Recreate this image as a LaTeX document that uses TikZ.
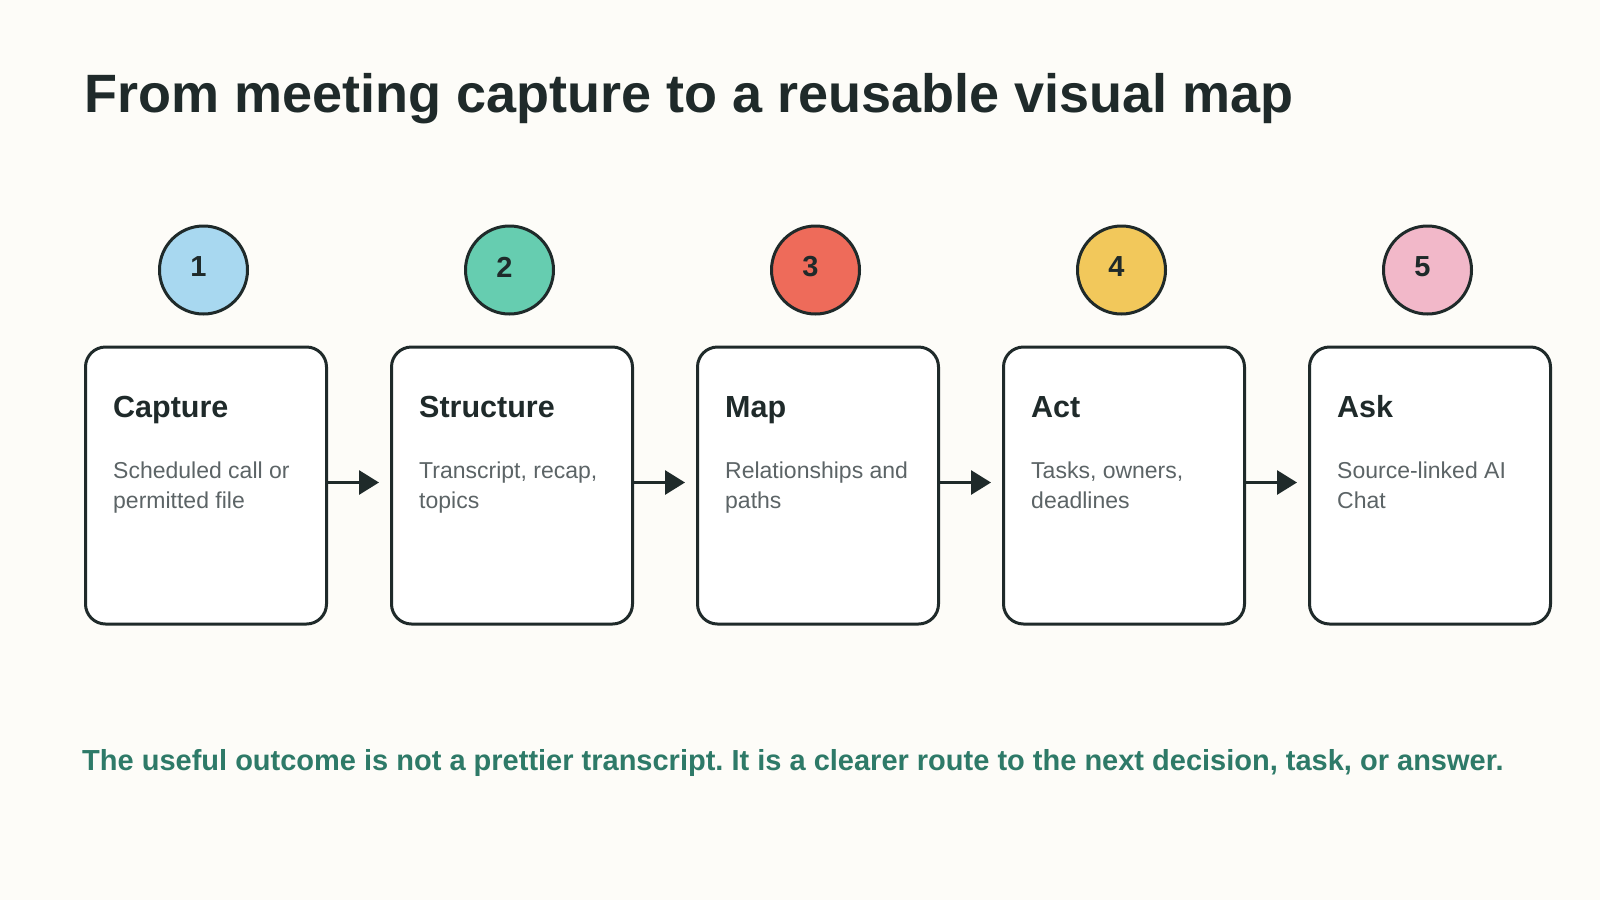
\documentclass[tikz,border=0pt]{standalone}
\usepackage{fontspec}
\setmainfont{Liberation Sans}
\usetikzlibrary{arrows.meta,calc}
\definecolor{bgcol}{HTML}{FDFCF8}
\definecolor{ink}{HTML}{1F2A2A}
\definecolor{desccol}{HTML}{5C6466}
\definecolor{footcol}{HTML}{2E7A68}
\definecolor{cblue}{HTML}{A8D8F0}
\definecolor{cteal}{HTML}{66CDB0}
\definecolor{cred}{HTML}{EE6B5A}
\definecolor{cyellow}{HTML}{F2C85B}
\definecolor{cpink}{HTML}{F2B8C9}
\frenchspacing
\begin{document}
\begin{tikzpicture}[x=1pt,y=-1pt,
  stepbox/.style={draw=ink,line width=3pt,fill=white,rounded corners=20pt,
    minimum width=241pt,minimum height=277pt,inner sep=0pt},
  badge/.style={circle,draw=ink,line width=3pt,minimum size=88pt,inner sep=0pt},
  badgenum/.style={font=\fontsize{29}{30}\selectfont\bfseries,text=ink,inner sep=0pt},
  boxtitle/.style={anchor=base west,inner sep=0pt,font=\fontsize{30.5}{32}\selectfont\bfseries,text=ink},
  boxdesc/.style={anchor=base west,inner sep=0pt,font=\fontsize{23}{30}\selectfont,text=desccol},
  flow/.style={draw=ink,line width=3pt,-{Triangle[length=20pt,width=24pt]}}
]
\fill[bgcol] (0,0) rectangle (1600,900);
\useasboundingbox (0,0) rectangle (1600,900);

\node[anchor=base west,inner sep=0pt,font=\fontsize{54}{60}\selectfont\bfseries,text=ink]
  (title) at (84,112) {From meeting capture to a reusable visual map};

\foreach \i/\col/\t/\la/\lb in {
  1/cblue/Capture/Scheduled call or/permitted file,
  2/cteal/Structure/{Transcript, recap,}/topics,
  3/cred/Map/Relationships and/paths,
  4/cyellow/Act/{Tasks, owners,}/deadlines,
  5/cpink/Ask/Source-linked AI/Chat}{
  \pgfmathsetmacro{\bx}{206+306*(\i-1)}
  \node[stepbox] (b\i) at (\bx,485.5) {};
  \node[badge,fill=\col] (c\i) at (\bx-2.5,270) {};
  \node[badgenum] (n\i) at ($(c\i.center)+(-5,-3)$) {\i};
  \node[boxtitle] (t\i) at ($(b\i.north west)+(29,72)$) {\t};
  \node[boxdesc] (da\i) at ($(b\i.north west)+(29,133)$) {\la};
  \node[boxdesc] (db\i) at ($(b\i.north west)+(29,163)$) {\lb};
}

\foreach \i [evaluate=\i as \j using int(\i+1)] in {1,2,3,4}{
  \coordinate (e\i) at ($(b\j.west)+(-11,-3)$);
  \draw[flow] (b\i.east |- e\i) -- (e\i);
}

\node[anchor=base west,inner sep=0pt,font=\fontsize{29}{32}\selectfont\bfseries,text=footcol]
  (foot) at (82,770) {The useful outcome is not a prettier transcript. It is a clearer route to the next decision, task, or answer.};
\end{tikzpicture}
\end{document}
